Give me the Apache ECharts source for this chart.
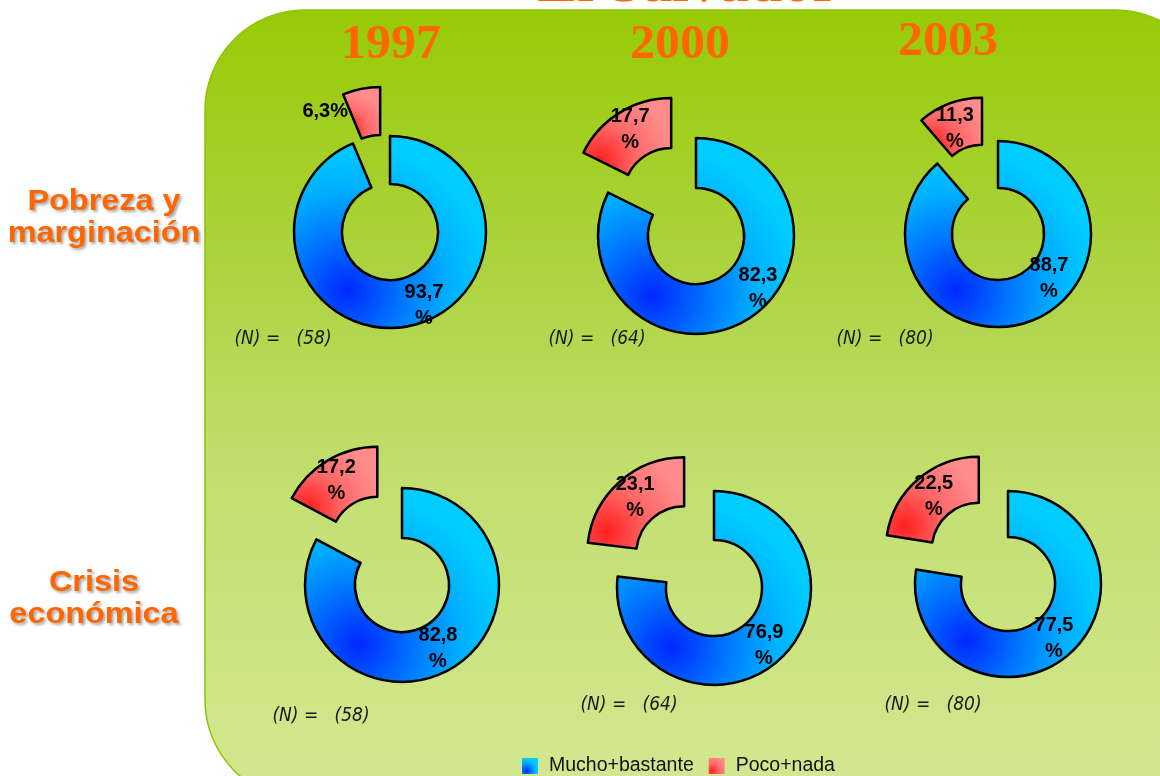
<!DOCTYPE html>
<html>
<head>
<meta charset="utf-8">
<title>El Salvador</title>
<script src="https://cdn.jsdelivr.net/npm/echarts@6/dist/echarts.min.js"></script>
<style>
  html, body { margin: 0; padding: 0; background: #fff; }
  #chart { width: 1160px; height: 776px; }
</style>
</head>
<body>
<div id="chart"></div>
<script>
// ---- data ----
const years = ['1997', '2000', '2003'];
const topics = ['Pobreza y\nmarginación', 'Crisis\neconómica'];
const answerNames = ['Mucho+bastante', 'Poco+nada'];
const muchoPobreza = [93.7, 82.3, 88.7];
const pocoPobreza = [6.3, 17.7, 11.3];
const muchoCrisis = [82.8, 76.9, 77.5];
const pocoCrisis = [17.2, 23.1, 22.5];
const sampleSize = [58, 64, 80];

// ---- layout (px) ----
const pieCenters = [[[390, 232], [696, 236], [998, 234]], [[402, 585], [714, 588], [1008, 584]]];
const pieRadii = [[[48, 96], [48, 98], [46, 93]], [[47, 97], [48, 97], [47, 93]]];
const pieOffsets = [[50, 47, 46], [48, 45, 45]];
// label centre relative to the slice centre
const muchoLabelPos = [[[34, 73], [62, 52], [51, 44]], [[36, 63], [50, 57], [46, 54]]];
const pocoLabelPos = [[[-55, -71], [-41, -67], [-27, -62]], [[-41, -63], [-49, -57], [-45, -53]]];
const yearPos = [[391, 46], [680, 46], [948, 43]];
const topicPos = [[104, 218], [94, 599]];
const sizePos = [[[283, 339], [597, 339], [885, 339]], [[321, 716], [629, 705], [933, 705]]];

const ORANGE = '#ff6600';
const SANS = '"Liberation Sans", Arial, sans-serif';
const SERIF = '"Liberation Serif", "Times New Roman", serif';
const NONE = 'rgba(0,0,0,0)';

const blueFill = {
  type: 'radial', x: 0.28, y: 0.8, r: 0.75,
  colorStops: [
    { offset: 0, color: '#0028ff' },
    { offset: 0.35, color: '#0070ff' },
    { offset: 0.7, color: '#00b0ff' },
    { offset: 1, color: '#00ccff' },
  ],
};
const redFill = {
  type: 'radial', x: 0.2, y: 0.8, r: 0.9,
  colorStops: [
    { offset: 0, color: '#ff2020' },
    { offset: 0.5, color: '#ff6868' },
    { offset: 1, color: '#ff8c8c' },
  ],
};

const fmtPct = (v) => v.toFixed(1).replace('.', ',') + (v < 10 ? '%' : '\n%');

const hiddenItem = (v) => ({
  name: '', value: v,
  itemStyle: { color: NONE, borderWidth: 0 },
  label: { show: false },
});

// one ring = two pie series: the big slice in place, the small one pushed out
// along its mid angle (a selected-state offset would ignore labelLayout)
const buildPies = (row, col, mucho, poco) => {
  const [cx, cy] = pieCenters[row][col];
  const off = pieOffsets[row][col];
  const mid = (360 - (poco / (mucho + poco)) * 180) * Math.PI / 180;
  const centers = [[cx, cy], [cx + off * Math.sin(mid), cy - off * Math.cos(mid)]];
  const rel = [muchoLabelPos[row][col], pocoLabelPos[row][col]];
  const base = {
    type: 'pie',
    radius: pieRadii[row][col],
    startAngle: 90,
    clockwise: true,
    silent: true,
    avoidLabelOverlap: false,
    emphasis: { disabled: true },
    itemStyle: { borderColor: '#000', borderWidth: 2.5 },
    label: {
      show: true,
      position: 'inside',
      formatter: (p) => fmtPct(p.value),
      color: '#000',
      fontWeight: 'bold',
      fontSize: 20,
      lineHeight: 26,
      fontFamily: SANS,
    },
    labelLine: { show: false },
  };
  return [0, 1].map((k) => Object.assign({}, base, {
    center: centers[k],
    labelLayout: () => ({
      x: centers[k][0] + rel[k][0],
      y: centers[k][1] + rel[k][1],
      align: 'center',
      verticalAlign: 'middle',
    }),
    data: k === 0
      ? [{ name: answerNames[0], value: mucho, itemStyle: { color: blueFill } }, hiddenItem(poco)]
      : [hiddenItem(mucho), { name: answerNames[1], value: poco, itemStyle: { color: redFill } }],
  }));
};

const series = [];
years.forEach((y, i) => series.push(...buildPies(0, i, muchoPobreza[i], pocoPobreza[i])));
years.forEach((y, i) => series.push(...buildPies(1, i, muchoCrisis[i], pocoCrisis[i])));

const txt = (text, x, y, font, fill, extra, scaleX) => ({
  type: 'text',
  silent: true,
  x, y,
  scaleX: scaleX || 1,
  style: Object.assign({
    text, x: 0, y: 0, font, fill,
    align: 'center', verticalAlign: 'middle',
    textAlign: 'center', textVerticalAlign: 'middle',
  }, extra || {}),
});

const graphic = [
  {
    // rounded green panel, runs off the right and bottom edges
    type: 'rect',
    silent: true,
    z: -10,
    shape: { x: 205, y: 10, width: 1010, height: 790, r: 100 },
    style: {
      fill: {
        type: 'linear', x: 0, y: 0, x2: 0, y2: 1,
        colorStops: [
          { offset: 0, color: '#98ca06' },
          { offset: 0.35, color: '#aed444' },
          { offset: 0.6, color: '#c2df70' },
          { offset: 1, color: '#d3e892' },
        ],
      },
      stroke: '#8fc400',
      lineWidth: 1.5,
    },
  },
  txt('El Salvador', 688, -15, 'bold 60px ' + SERIF, ORANGE,
    { textShadowColor: '#a8a8a8', textShadowOffsetX: 3, textShadowOffsetY: 3 }),
];
years.forEach((y, i) => graphic.push(
  txt(y, yearPos[i][0], yearPos[i][1], 'bold 48px ' + SERIF, ORANGE,
    { textShadowColor: '#a8a8a8', textShadowOffsetX: 2, textShadowOffsetY: 2 }, 1.04)
));
topics.forEach((t, i) => graphic.push(
  txt(t, topicPos[i][0], topicPos[i][1], 'bold 30px ' + SANS, ORANGE,
    { lineHeight: 32, textShadowColor: 'rgba(0,0,0,0.35)', textShadowBlur: 3, textShadowOffsetX: 2, textShadowOffsetY: 2 }, 1.08)
));
[0, 1].forEach((row) => sampleSize.forEach((n, i) => graphic.push(
  txt('(N) =   (' + n + ')', sizePos[row][i][0], sizePos[row][i][1],
    'italic 19px "Liberation Sans Narrow", "DejaVu Sans Condensed", sans-serif', '#1a1a1a')
)));

const chart = echarts.init(document.getElementById('chart'));
chart.setOption({
  animation: false,
  backgroundColor: '#ffffff',
  legend: {
    data: answerNames,
    left: 517,
    top: 751,
    icon: 'rect',
    itemWidth: 16,
    itemHeight: 16,
    itemGap: 15,
    selectedMode: false,
    itemStyle: { borderWidth: 0 },
    textStyle: { fontSize: 19.5, color: '#111', fontFamily: SANS, padding: [0, 0, 0, 6] },
  },
  graphic,
  series,
});
</script>
</body>
</html>
